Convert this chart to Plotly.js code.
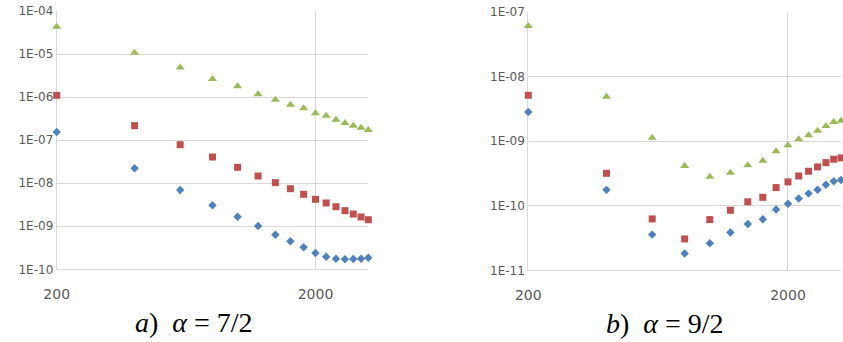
<!DOCTYPE html>
<html>
<head>
<meta charset="utf-8">
<script src="https://cdn.plot.ly/plotly-3.0.1.min.js"></script>
<style>html,body{margin:0;padding:0;background:#fff;}#chart{width:843px;height:342px;}</style>
</head>
<body>
<div id="chart"></div>
<script>
// Grid sizes N (shared by both panels)
const nValues = [200, 400, 600, 800, 1000, 1200, 1400, 1600, 1800, 2000, 2200, 2400, 2600, 2800, 3000, 3200];

// Panel a) alpha = 7/2
const aBlue  = [1.55e-7, 2.22e-8, 6.95e-9, 3.07e-9, 1.67e-9, 1.01e-9, 6.37e-10, 4.47e-10, 3.24e-10, 2.39e-10, 1.96e-10, 1.76e-10, 1.71e-10, 1.73e-10, 1.76e-10, 1.86e-10];
const aRed   = [1.10e-6, 2.17e-7, 7.84e-8, 4.06e-8, 2.34e-8, 1.47e-8, 1.03e-8, 7.45e-9, 5.52e-9, 4.23e-9, 3.47e-9, 2.84e-9, 2.30e-9, 1.92e-9, 1.64e-9, 1.42e-9];
const aGreen = [4.3e-5, 1.07e-5, 4.9e-6, 2.63e-6, 1.78e-6, 1.16e-6, 8.7e-7, 6.66e-7, 5.5e-7, 4.2e-7, 3.7e-7, 2.99e-7, 2.5e-7, 2.17e-7, 1.95e-7, 1.72e-7];

// Panel b) alpha = 9/2
const bBlue  = [2.83e-9, 1.76e-10, 3.57e-11, 1.82e-11, 2.63e-11, 3.84e-11, 5.23e-11, 6.18e-11, 8.71e-11, 1.07e-10, 1.29e-10, 1.54e-10, 1.77e-10, 2.12e-10, 2.39e-10, 2.51e-10];
const bRed   = [5.14e-9, 3.18e-10, 6.25e-11, 3.06e-11, 6.1e-11, 8.51e-11, 1.15e-10, 1.35e-10, 1.91e-10, 2.34e-10, 2.89e-10, 3.42e-10, 3.99e-10, 4.65e-10, 5.25e-10, 5.5e-10];
const bGreen = [6.07e-8, 4.89e-9, 1.13e-9, 4.13e-10, 2.82e-10, 3.25e-10, 4.24e-10, 4.99e-10, 7.0e-10, 8.65e-10, 1.07e-9, 1.23e-9, 1.45e-9, 1.72e-9, 1.98e-9, 2.07e-9];

// Tick labels
const xTickVals = [200, 2000];
const xTickText = ['200', '2000'];
const aYTickVals = [1e-10, 1e-9, 1e-8, 1e-7, 1e-6, 1e-5, 1e-4];
const aYTickText = ['1E-10', '1E-09', '1E-08', '1E-07', '1E-06', '1E-05', '1E-04'];
const bYTickVals = [1e-11, 1e-10, 1e-9, 1e-8, 1e-7];
const bYTickText = ['1E-11', '1E-10', '1E-09', '1E-08', '1E-07'];
const captions = ['<i>a</i>)&nbsp;&nbsp;<i>α</i>&nbsp;=&nbsp;7/2', '<i>b</i>)&nbsp;&nbsp;<i>α</i>&nbsp;=&nbsp;9/2'];

const BLUE = '#4F81BD', RED = '#C0504D', GREEN = '#9BBB59';
const W = 843, H = 342;

function tr(y, color, symbol, size, xa, ya) {
  return {x: nValues, y: y, type: 'scatter', mode: 'markers', xaxis: xa, yaxis: ya, cliponaxis: false,
    marker: {color: color, symbol: symbol, size: size, line: {width: 0}}, hoverinfo: 'skip', showlegend: false};
}

const data = [
  tr(aBlue, BLUE, 'diamond', 6.5, 'x', 'y'),
  tr(aRed, RED, 'square', 7, 'x', 'y'),
  tr(aGreen, GREEN, 'triangle-up', 8, 'x', 'y'),
  tr(bBlue, BLUE, 'diamond', 6.5, 'x2', 'y2'),
  tr(bRed, RED, 'square', 7, 'x2', 'y2'),
  tr(bGreen, GREEN, 'triangle-up', 8, 'x2', 'y2')
];

const gridC = '#D9D9D9';
const tickFont = {family: 'DejaVu Sans', size: 12, color: '#595959'};
const xTickFont = {family: 'DejaVu Sans', size: 14, color: '#595959'};
const EPS = 1e-5;

function xax(l, r, anchor) {
  return {type: 'log', domain: [l / W, r / W], range: [Math.log10(200) - EPS, Math.log10(3200) + EPS], anchor: anchor,
    tickmode: 'array', tickvals: xTickVals, ticktext: xTickText, showgrid: true, gridcolor: gridC, gridwidth: 1, layer: 'below traces',
    showline: true, linecolor: gridC, linewidth: 1, ticks: '', zeroline: false, tickfont: xTickFont, ticklabelstandoff: 12, fixedrange: true};
}
function yax(top, bot, rng, vals, text, anchor) {
  return {type: 'log', domain: [(H - bot) / H, (H - top) / H], range: rng, anchor: anchor,
    tickmode: 'array', tickvals: vals, ticktext: text, showgrid: true, gridcolor: gridC, gridwidth: 1, layer: 'below traces',
    showline: true, linecolor: gridC, linewidth: 1, ticks: '', zeroline: false, tickfont: tickFont, ticklabelstandoff: 14.5, fixedrange: true};
}

const layout = {
  width: W, height: H, margin: {l: 0, r: 0, t: 0, b: 0}, paper_bgcolor: '#fff', plot_bgcolor: '#fff', showlegend: false,
  xaxis: xax(56.7, 368.3, 'y'),
  yaxis: yax(11, 269.3, [-10, -4], aYTickVals, aYTickText, 'x'),
  xaxis2: xax(528.3, 841, 'y2'),
  yaxis2: yax(12, 270.3, [-11, -7], bYTickVals, bYTickText, 'x2'),
  annotations: [
    {text: captions[0], xref: 'paper', yref: 'paper', x: 194 / W, y: (H - 322) / H, xanchor: 'center', yanchor: 'middle', showarrow: false,
     font: {family: 'Liberation Serif', size: 28, color: '#000'}},
    {text: captions[1], xref: 'paper', yref: 'paper', x: 665 / W, y: (H - 323) / H, xanchor: 'center', yanchor: 'middle', showarrow: false,
     font: {family: 'Liberation Serif', size: 28, color: '#000'}}
  ]
};

Plotly.newPlot('chart', data, layout, {staticPlot: true, displayModeBar: false});
</script>
</body>
</html>
